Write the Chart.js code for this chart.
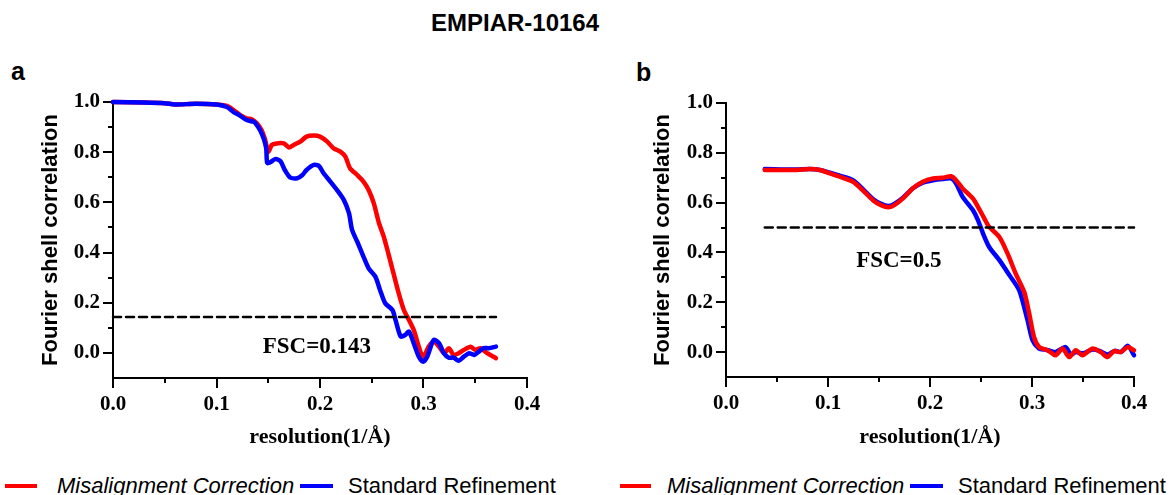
<!DOCTYPE html>
<html>
<head>
<meta charset="utf-8">
<script src="https://cdn.jsdelivr.net/npm/chart.js@4/dist/chart.umd.min.js"></script>
<style>
  html, body { margin: 0; padding: 0; background: #fff; }
  body { position: relative; width: 1173px; height: 495px; overflow: hidden; }
  canvas { position: absolute; top: 0; }
  .txt { position: absolute; color: #000; white-space: nowrap; }
  .title { left: 315px; width: 400px; top: 11px; text-align: center; font: bold 24px 'Liberation Sans', Arial, sans-serif; line-height: 24px; }
  .panel { font: bold 25px 'Liberation Sans', Arial, sans-serif; line-height: 25px; }
  .leg { top: 475px; font: 22px 'Liberation Sans', Arial, sans-serif; line-height: 22px; }
  .leg.it { font-style: italic; }
  .sw { position: absolute; top: 484px; height: 4px; }
</style>
</head>
<body>
<div class="txt title">EMPIAR-10164</div>
<div class="txt panel" style="left:11px;top:59px">a</div>
<div class="txt panel" style="left:636px;top:60px">b</div>

<canvas id="chartA" width="560" height="455" style="left:0"></canvas>
<canvas id="chartB" width="553" height="455" style="left:620px"></canvas>

<div class="sw" style="left:5px;width:32px;background:#ff0000"></div>
<div class="txt leg it" style="left:57px">Misalignment Correction</div>
<div class="sw" style="left:300px;width:33px;background:#0000ff"></div>
<div class="txt leg" style="left:348px">Standard Refinement</div>
<div class="sw" style="left:620px;width:31px;background:#ff0000"></div>
<div class="txt leg it" style="left:667px">Misalignment Correction</div>
<div class="sw" style="left:910px;width:33px;background:#0000ff"></div>
<div class="txt leg" style="left:958px">Standard Refinement</div>

<script>
// ---- data ----
const X_TICKS = [0, 0.1, 0.2, 0.3, 0.4];
const X_MINOR = [0.05, 0.15, 0.25, 0.35];
const Y_TICKS = [0, 0.2, 0.4, 0.6, 0.8, 1.0];
const Y_MINOR = [0.1, 0.3, 0.5, 0.7, 0.9];

// panel a
const A_RED_X = [0, 0.03, 0.05, 0.06, 0.08, 0.1, 0.11, 0.1165, 0.123, 0.129, 0.134, 0.139, 0.1435, 0.147, 0.150,
  0.1535, 0.158, 0.165, 0.170, 0.1745, 0.181, 0.187, 0.194, 0.200, 0.207, 0.213, 0.2197, 0.2245, 0.229, 0.236,
  0.242, 0.247, 0.252, 0.257, 0.2616, 0.266, 0.271, 0.276, 0.281, 0.286, 0.2905, 0.2955, 0.299, 0.302, 0.305,
  0.31, 0.315, 0.32, 0.3245, 0.329, 0.334, 0.339, 0.3455, 0.35, 0.355, 0.3615, 0.37];
const A_RED_Y = [1.0, 0.998, 0.995, 0.99, 0.993, 0.99, 0.984, 0.968, 0.948, 0.935, 0.931, 0.915, 0.888, 0.849, 0.802,
  0.829, 0.835, 0.835, 0.819, 0.829, 0.842, 0.862, 0.866, 0.862, 0.842, 0.816, 0.802, 0.782, 0.736, 0.709,
  0.683, 0.649, 0.596, 0.517, 0.463, 0.397, 0.317, 0.238, 0.171, 0.131, 0.092, 0.025, -0.015, -0.001, 0.025,
  0.045, 0.025, -0.001, 0.019, -0.008, -0.001, 0.012, 0.025, 0.012, 0.019, -0.001, -0.021];
const A_BLUE_X = [0, 0.03, 0.05, 0.06, 0.08, 0.1, 0.11, 0.1165, 0.123, 0.129, 0.136, 0.139, 0.142, 0.1455, 0.148,
  0.149, 0.152, 0.157, 0.162, 0.166, 0.171, 0.178, 0.183, 0.187, 0.194, 0.199, 0.2035, 0.21, 0.2165, 0.223,
  0.228, 0.231, 0.236, 0.242, 0.247, 0.2535, 0.258, 0.263, 0.27, 0.273, 0.278, 0.2825, 0.286, 0.2905, 0.2955,
  0.2997, 0.3036, 0.307, 0.31, 0.315, 0.3197, 0.3245, 0.329, 0.334, 0.339, 0.344, 0.349, 0.3535, 0.358, 0.363, 0.37];
const A_BLUE_Y = [1.0, 0.998, 0.995, 0.99, 0.993, 0.99, 0.98, 0.96, 0.945, 0.928, 0.921, 0.908, 0.888, 0.855, 0.816,
  0.757, 0.76, 0.773, 0.763, 0.729, 0.7, 0.696, 0.709, 0.729, 0.749, 0.745, 0.716, 0.683, 0.649, 0.61,
  0.557, 0.49, 0.443, 0.384, 0.337, 0.304, 0.251, 0.198, 0.171, 0.131, 0.065, 0.072, 0.085, 0.039, -0.015,
  -0.035, -0.015, 0.025, 0.052, 0.039, -0.001, -0.019, -0.019, -0.031, -0.015, -0.001, -0.008, 0.005, 0.019, 0.019, 0.025];
const A_CUT_X = [0, 0.37];
const A_CUT_Y = [0.143, 0.143];

// panel b
const B_RED_X = [0.038, 0.069, 0.082, 0.092, 0.102, 0.1115, 0.1245, 0.134, 0.144, 0.152, 0.159, 0.165, 0.1735, 0.183,
  0.193, 0.203, 0.2125, 0.2207, 0.2256, 0.232, 0.242, 0.248, 0.2533, 0.258, 0.268, 0.276, 0.284, 0.2924, 0.2973,
  0.302, 0.307, 0.3136, 0.318, 0.323, 0.330, 0.3364, 0.343, 0.3495, 0.359, 0.3674, 0.374, 0.3804, 0.387, 0.3937, 0.400];
const B_RED_Y = [0.731, 0.731, 0.735, 0.731, 0.717, 0.704, 0.684, 0.650, 0.610, 0.590, 0.581, 0.590, 0.617, 0.657,
  0.684, 0.697, 0.700, 0.706, 0.690, 0.657, 0.617, 0.576, 0.536, 0.503, 0.462, 0.396, 0.315, 0.241, 0.154,
  0.060, 0.020, 0.010, 0.0, -0.013, 0.014, -0.020, 0.007, -0.013, 0.014, 0.0, -0.020, 0.004, 0.0, 0.020, 0.007];
const B_BLUE_X = [0.038, 0.069, 0.082, 0.092, 0.102, 0.1115, 0.1245, 0.134, 0.144, 0.152, 0.159, 0.165, 0.1735, 0.183,
  0.193, 0.203, 0.2125, 0.2207, 0.2256, 0.232, 0.242, 0.247, 0.252, 0.258, 0.268, 0.278, 0.2875, 0.2957, 0.3006,
  0.307, 0.313, 0.318, 0.323, 0.333, 0.338, 0.343, 0.35, 0.359, 0.366, 0.374, 0.381, 0.387, 0.394, 0.400];
const B_BLUE_Y = [0.735, 0.733, 0.735, 0.731, 0.72, 0.708, 0.69, 0.655, 0.615, 0.595, 0.586, 0.595, 0.62, 0.657,
  0.68, 0.69, 0.695, 0.697, 0.677, 0.623, 0.570, 0.530, 0.476, 0.422, 0.369, 0.308, 0.248, 0.127, 0.047,
  0.014, 0.010, 0.005, 0.0, 0.020, -0.010, 0.0, -0.005, 0.010, 0.005, -0.010, 0.005, 0.0, 0.025, -0.013];
const B_CUT_X = [0.038, 0.4];
const B_CUT_Y = [0.5, 0.5];

const RED = '#ff0000';
const BLUE = '#0000ff';
const SERIF = "'Liberation Serif', 'Times New Roman', serif";
const SANS = "'Liberation Sans', Arial, sans-serif";

function pts(xs, ys) {
  return xs.map(function (x, i) { return { x: x, y: ys[i] }; });
}

// minor ticks + FSC threshold label
const decor = {
  id: 'decor',
  afterDatasetsDraw: function (chart, args, opts) {
    const ctx = chart.ctx;
    const area = chart.chartArea;
    const x = chart.scales.x;
    const y = chart.scales.y;
    ctx.save();
    ctx.strokeStyle = '#000';
    ctx.lineWidth = 2;
    ctx.beginPath();
    X_MINOR.forEach(function (v) {
      const px = Math.round(x.getPixelForValue(v));
      ctx.moveTo(px, area.bottom);
      ctx.lineTo(px, area.bottom + 5);
    });
    Y_MINOR.forEach(function (v) {
      const py = Math.round(y.getPixelForValue(v));
      ctx.moveTo(area.left, py);
      ctx.lineTo(area.left - 5, py);
    });
    ctx.stroke();
    ctx.font = 'bold 23px ' + SERIF;
    ctx.fillStyle = '#000';
    ctx.textAlign = 'center';
    ctx.textBaseline = 'alphabetic';
    ctx.fillText(opts.text, x.getPixelForValue(opts.x), y.getPixelForValue(opts.y));
    ctx.restore();
  }
};

function makeChart(id, sets, cfg) {
  return new Chart(document.getElementById(id), {
    type: 'line',
    data: {
      datasets: [
        { label: 'Misalignment Correction', data: pts(sets.redX, sets.redY), borderColor: RED, order: sets.redOrder },
        { label: 'Standard Refinement', data: pts(sets.blueX, sets.blueY), borderColor: BLUE, order: sets.blueOrder },
        { label: 'cutoff', data: pts(sets.cutX, sets.cutY), borderColor: '#000', borderWidth: 2.5,
          borderDash: [8, 5], tension: 0, order: 0 }
      ]
    },
    plugins: [decor],
    options: {
      responsive: false,
      animation: false,
      layout: { padding: cfg.padding },
      elements: {
        point: { radius: 0 },
        line: { borderWidth: 4.5, tension: 0.25, borderCapStyle: 'round', borderJoinStyle: 'round' }
      },
      datasets: { line: { clip: false } },
      plugins: {
        legend: { display: false },
        tooltip: { enabled: false },
        decor: cfg.note
      },
      scales: {
        x: {
          type: 'linear',
          min: 0,
          max: 0.4,
          afterBuildTicks: function (s) { s.ticks = X_TICKS.map(function (v) { return { value: v }; }); },
          afterFit: function (s) { s.height = cfg.xHeight; },
          border: { display: true, color: '#000', width: 2 },
          grid: { drawOnChartArea: false, drawTicks: true, tickLength: 10, color: '#000', lineWidth: 2 },
          ticks: {
            color: '#000', padding: 4, maxRotation: 0, autoSkip: false,
            font: { family: SERIF, size: 21, weight: 'bold' },
            callback: function (v) { return v.toFixed(1); }
          },
          title: {
            display: true, text: 'resolution(1/Å)', color: '#000',
            font: { family: SERIF, size: 22, weight: 'bold' },
            padding: { top: 0, bottom: 4 }
          }
        },
        y: {
          type: 'linear',
          min: -0.1,
          max: 1.0,
          afterBuildTicks: function (s) { s.ticks = Y_TICKS.map(function (v) { return { value: v }; }); },
          afterFit: function (s) { s.width = cfg.yWidth; },
          border: { display: true, color: '#000', width: 2 },
          grid: { drawOnChartArea: false, drawTicks: true, tickLength: 10, color: '#000', lineWidth: 2 },
          ticks: {
            color: '#000', padding: 3,
            font: { family: SERIF, size: 21, weight: 'bold' },
            callback: function (v) { return v.toFixed(1); }
          },
          title: {
            display: true, text: 'Fourier shell correlation', color: '#000',
            font: { family: SANS, size: 22, weight: 'bold' },
            padding: { top: cfg.yTitlePad, bottom: 0 }
          }
        }
      }
    }
  });
}

makeChart('chartA',
  { redX: A_RED_X, redY: A_RED_Y, blueX: A_BLUE_X, blueY: A_BLUE_Y, cutX: A_CUT_X, cutY: A_CUT_Y,
    redOrder: 2, blueOrder: 1 },
  { padding: { top: 102, right: 33, bottom: 0, left: 0 }, xHeight: 77, yWidth: 113, yTitlePad: 38,
    note: { text: 'FSC=0.143', x: 0.197, y: 0.0 } });

makeChart('chartB',
  { redX: B_RED_X, redY: B_RED_Y, blueX: B_BLUE_X, blueY: B_BLUE_Y, cutX: B_CUT_X, cutY: B_CUT_Y,
    redOrder: 1, blueOrder: 2 },
  { padding: { top: 103, right: 39, bottom: 0, left: 0 }, xHeight: 78, yWidth: 106, yTitlePad: 30,
    note: { text: 'FSC=0.5', x: 0.1694, y: 0.342 } });
</script>
</body>
</html>
